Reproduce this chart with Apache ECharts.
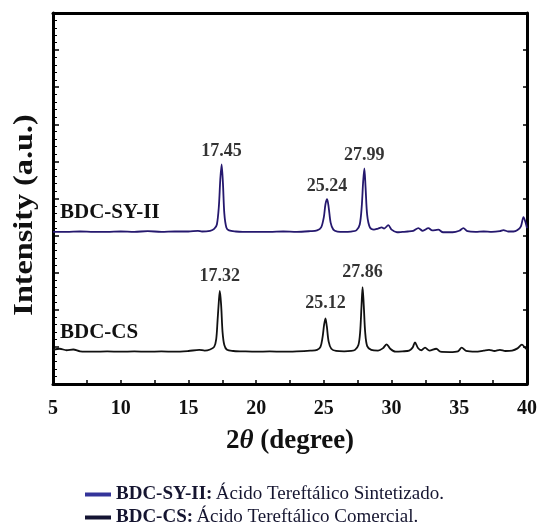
<!DOCTYPE html>
<html>
<head>
<meta charset="utf-8">
<script src="https://cdn.jsdelivr.net/npm/echarts@6/dist/echarts.min.js"></script>
<style>
html,body{margin:0;padding:0;background:#fff;}
#c{width:541px;height:525px;}
</style>
</head>
<body>
<div id="c"></div>
<script>
// 2θ (degree) vs intensity (a.u., offset traces)
const xTicks = [5, 10, 15, 20, 25, 30, 35, 40];
const seriesNames = ['BDC-SY-II', 'BDC-CS'];
const legendDesc = ['Ácido Tereftálico Sintetizado.', 'Ácido Tereftálico Comercial.'];

const sySeries = [
  [5, 41.0], [6, 41.0], [7, 41.1], [8, 41.0], [9, 41.0], [10, 41.1], [11, 41.0], [12, 41.2],
  [13, 41.0], [14, 41.1], [15, 41.1], [15.7, 41.3], [16, 41.1], [16.6, 41.3], [16.9, 41.8],
  [17.1, 43.0], [17.25, 48.0], [17.35, 55.0], [17.45, 59.2], [17.55, 54.0], [17.65, 46.0],
  [17.8, 42.2], [18.0, 41.4], [18.5, 41.1], [19, 41.0], [20, 41.0], [21, 41.0], [22, 41.1],
  [23, 41.0], [24, 41.2], [24.5, 41.4], [24.8, 42.2], [25.0, 45.0], [25.12, 48.5], [25.24, 49.8],
  [25.36, 47.5], [25.5, 43.5], [25.7, 41.6], [26, 41.1], [26.5, 41.0], [27, 41.1], [27.4, 41.4],
  [27.65, 43.0], [27.8, 48.0], [27.9, 54.5], [27.99, 58.1], [28.08, 53.0], [28.2, 45.5],
  [28.4, 42.2], [28.7, 41.6], [29.0, 41.9], [29.27, 42.2], [29.45, 41.9], [29.76, 42.8],
  [30.0, 41.6], [30.4, 40.9], [30.8, 41.0], [31.2, 41.1], [31.6, 41.3], [31.98, 42.0],
  [32.3, 41.3], [32.72, 42.0], [33.0, 41.4], [33.45, 41.6], [33.8, 40.9], [34.5, 40.9],
  [35.0, 41.3], [35.3, 42.0], [35.6, 41.2], [36.2, 41.0], [36.8, 41.1], [37.4, 41.0],
  [38.0, 41.2], [38.26, 41.5], [38.6, 41.1], [39.0, 41.1], [39.3, 41.5], [39.55, 42.5],
  [39.74, 45.0], [39.9, 43.5], [40, 42.0]
];

const csSeries = [
  [5, 9.2], [5.5, 9.5], [6, 9.1], [6.5, 9.3], [7, 8.8], [8, 8.7], [9, 8.8], [10, 8.7],
  [11, 8.8], [12, 8.7], [13, 8.8], [14, 8.7], [15, 8.9], [15.8, 9.2], [16.2, 9.0], [16.6, 9.3],
  [16.9, 10.0], [17.05, 12.0], [17.15, 17.0], [17.25, 22.5], [17.32, 25.1], [17.42, 21.0],
  [17.52, 14.0], [17.65, 10.5], [17.85, 9.2], [18.3, 8.9], [19, 8.8], [20, 8.7], [21, 8.8],
  [22, 8.7], [23, 8.8], [24, 9.0], [24.5, 9.2], [24.75, 10.0], [24.9, 12.5], [25.02, 16.0],
  [25.12, 17.7], [25.22, 15.5], [25.35, 11.5], [25.55, 9.5], [25.9, 8.9], [26.5, 8.8],
  [27, 8.9], [27.3, 9.2], [27.55, 10.5], [27.68, 14.0], [27.78, 21.0], [27.86, 26.1],
  [27.95, 21.0], [28.05, 14.0], [28.2, 10.2], [28.5, 9.2], [29.0, 9.0], [29.35, 9.6],
  [29.64, 10.7], [29.9, 9.5], [30.3, 8.7], [30.8, 8.8], [31.3, 9.0], [31.55, 9.8],
  [31.73, 11.2], [31.95, 9.7], [32.2, 9.1], [32.47, 9.8], [32.8, 9.0], [33.3, 9.5],
  [33.6, 8.7], [34.3, 8.6], [34.9, 8.8], [35.18, 9.8], [35.5, 8.9], [36.2, 8.7], [36.8, 9.0],
  [37.2, 9.2], [37.6, 8.9], [38.0, 9.2], [38.4, 8.9], [38.9, 9.0], [39.3, 9.6], [39.62, 10.6],
  [39.85, 9.8], [40, 9.3]
];

const syPeaks = [[17.45, 59.2], [25.24, 49.8], [27.99, 58.1]];
const csPeaks = [[17.32, 25.1], [25.12, 17.7], [27.86, 26.1]];

const FONT = '"Liberation Serif", "Times New Roman", serif';
const syColor = '#25186e';
const csColor = '#111111';
const legendColors = ['#34349a', '#141433'];

const chart = echarts.init(document.getElementById('c'), null, {renderer: 'canvas'});

function peakSeries(data, dist) {
  return {
    type: 'scatter',
    data: data,
    symbolSize: 0,
    silent: true,
    legendHoverLink: false,
    label: {
      show: true,
      position: 'top',
      distance: dist,
      formatter: p => p.value[0].toFixed(2),
      fontFamily: FONT,
      fontWeight: 'bold',
      fontSize: 18,
      color: '#000'
    },
    z: 5
  };
}

function legendFor(i, top) {
  return {
    orient: 'horizontal',
    left: 80,
    top: top,
    icon: 'rect',
    itemWidth: 26,
    itemHeight: 4,
    selectedMode: false,
    data: [{name: seriesNames[i], itemStyle: {color: legendColors[i]}}],
    formatter: name => '{b|' + name + ':} {n|' + legendDesc[i] + '}',
    textStyle: {
      rich: {
        b: {fontFamily: FONT, fontWeight: 'bold', fontSize: 19, color: '#151530'},
        n: {fontFamily: FONT, fontSize: 19, color: '#151530'}
      }
    }
  };
}

const option = {
  animation: false,
  backgroundColor: '#fff',
  grid: {left: 53, right: 14, top: 13, bottom: 141, show: false},
  xAxis: [{
    type: 'value', min: 5, max: 40, interval: 2.5,
    position: 'bottom',
    axisLine: {show: true, onZero: false, lineStyle: {color: '#000', width: 3}},
    axisTick: {show: true, inside: true, length: 4, lineStyle: {color: '#000', width: 1.5}},
    axisLabel: {
      show: true, margin: 15, fontFamily: FONT, fontWeight: 'bold', fontSize: 20, color: '#111',
      formatter: v => (xTicks.indexOf(v) >= 0 ? String(v) : '')
    },
    splitLine: {show: false},
    name: '{a|2}{b|θ}{a| (degree)}',
    nameLocation: 'middle',
    nameGap: 44,
    nameTextStyle: {
      rich: {
        a: {fontFamily: FONT, fontWeight: 'bold', fontSize: 27, color: '#111'},
        b: {fontFamily: FONT, fontWeight: 'bold', fontStyle: 'italic', fontSize: 27, color: '#111'}
      }
    }
  }, {
    type: 'value', min: 5, max: 40, interval: 2.5,
    position: 'top',
    axisLine: {show: true, onZero: false, lineStyle: {color: '#000', width: 3}},
    axisTick: {show: false},
    axisLabel: {show: false},
    splitLine: {show: false}
  }],
  yAxis: [{
    type: 'value', min: 0, max: 100, interval: 10,
    position: 'left',
    axisLine: {show: true, onZero: false, lineStyle: {color: '#000', width: 3}},
    axisTick: {show: true, inside: true, length: 6, lineStyle: {color: '#000', width: 1.5}},
    minorTick: {show: true, splitNumber: 5, length: 4, lineStyle: {color: '#000', width: 1}},
    axisLabel: {show: false},
    splitLine: {show: false}
  }, {
    type: 'value', min: 0, max: 100, interval: 10,
    position: 'right',
    axisLine: {show: true, onZero: false, lineStyle: {color: '#000', width: 3}},
    axisTick: {show: true, inside: true, length: 4, lineStyle: {color: '#000', width: 1.5}},
    axisLabel: {show: false},
    splitLine: {show: false}
  }],
  legend: [legendFor(0, 480), legendFor(1, 503)],
  graphic: [
    {type: 'text', x: 25, y: 215, rotation: Math.PI / 2, scaleX: 1.15,
      style: {text: 'Intensity (a.u.)', fontFamily: FONT, fontWeight: 'bold', fontSize: 28, fill: '#111',
        align: 'center', verticalAlign: 'middle'}},
    {type: 'text', left: 60, top: 202, style: {text: seriesNames[0], fontFamily: FONT, fontWeight: 'bold', fontSize: 21, fill: '#111'}},
    {type: 'text', left: 60, top: 322, style: {text: seriesNames[1], fontFamily: FONT, fontWeight: 'bold', fontSize: 21, fill: '#111'}}
  ],
  series: [
    {
      name: seriesNames[0], type: 'line', data: sySeries, smooth: 0.3, showSymbol: false,
      lineStyle: {color: syColor, width: 1.8}, itemStyle: {color: syColor}, z: 3
    },
    {
      name: seriesNames[1], type: 'line', data: csSeries, smooth: 0.3, showSymbol: false,
      lineStyle: {color: csColor, width: 1.8}, itemStyle: {color: csColor}, z: 3
    },
    peakSeries(syPeaks, 4),
    peakSeries(csPeaks, 6)
  ]
};
chart.setOption(option);
</script>
</body>
</html>
